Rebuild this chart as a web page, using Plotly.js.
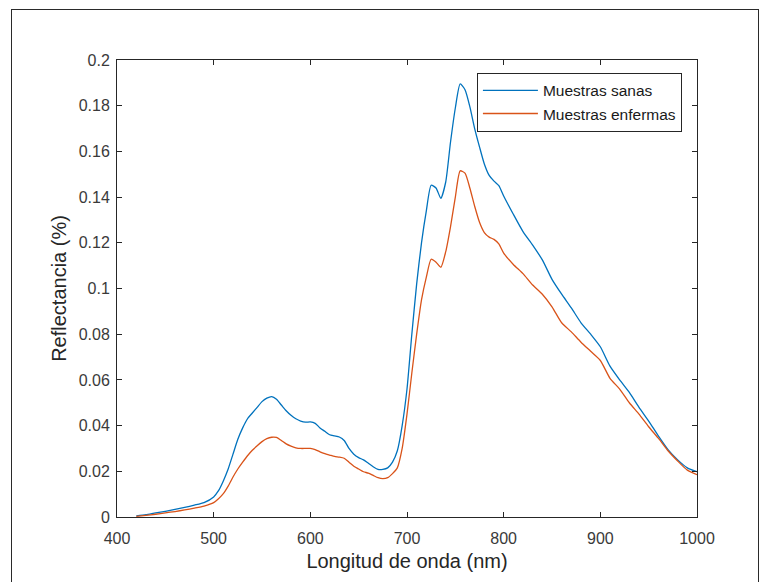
<!DOCTYPE html>
<html>
<head>
<meta charset="utf-8">
<script src="https://cdn.plot.ly/plotly-3.0.1.min.js"></script>
<style>
  html, body { margin: 0; padding: 0; background: #fff; overflow: hidden; }
  #chart { width: 763px; height: 582px; position: absolute; left: 0; top: 0; }
  #frame { position: absolute; left: 11px; top: 9px; width: 746px; height: 620px; border: 1px solid #2a2a2a; pointer-events: none; }
</style>
</head>
<body>
<div id="chart"></div>
<div id="frame"></div>
<script>
const wavelength = [420,430,440,450,460,470,480,490,500,505,510,515,520,525,530,535,540,545,550,555,560,565,570,575,580,585,590,595,600,605,610,615,620,625,630,635,640,645,650,655,660,665,670,675,680,685,690,695,700,705,710,715,720,725,730,735,740,745,750,755,760,765,770,775,780,785,790,795,800,810,820,830,840,850,860,870,880,890,900,910,920,930,940,950,960,970,980,990,1000];

const sanas = [0.0005,0.001,0.0018,0.0025,0.0033,0.0042,0.0052,0.0063,0.0088,0.0115,0.0158,0.021,0.0275,0.034,0.039,0.043,0.0455,0.048,0.0505,0.052,0.0527,0.0515,0.049,0.0465,0.0445,0.043,0.042,0.0415,0.0416,0.041,0.039,0.0375,0.036,0.0355,0.035,0.0335,0.030,0.0275,0.026,0.025,0.0235,0.022,0.0208,0.0208,0.0215,0.024,0.029,0.040,0.056,0.080,0.102,0.120,0.134,0.1452,0.144,0.1395,0.1465,0.164,0.179,0.1895,0.187,0.1796,0.170,0.162,0.1545,0.1495,0.147,0.145,0.1405,0.1325,0.1249,0.119,0.1125,0.104,0.0975,0.0915,0.085,0.080,0.0745,0.066,0.060,0.0545,0.048,0.042,0.0355,0.0295,0.025,0.0215,0.0198];

const enfermas = [0.0003,0.0007,0.0012,0.0018,0.0024,0.0031,0.0039,0.0048,0.0063,0.0080,0.0102,0.0135,0.0175,0.021,0.024,0.0268,0.0292,0.0312,0.033,0.0343,0.0349,0.0348,0.0335,0.032,0.031,0.0303,0.030,0.030,0.0300,0.0295,0.0285,0.0277,0.0271,0.0265,0.0262,0.0257,0.024,0.0222,0.021,0.0198,0.0192,0.0182,0.0172,0.0168,0.0172,0.019,0.0215,0.030,0.045,0.063,0.080,0.095,0.105,0.1128,0.1115,0.1093,0.116,0.127,0.140,0.1515,0.1505,0.144,0.136,0.129,0.1245,0.1225,0.1215,0.1195,0.1155,0.1105,0.1065,0.1015,0.0975,0.092,0.085,0.081,0.0765,0.0725,0.0685,0.0607,0.056,0.050,0.045,0.0395,0.0345,0.029,0.0245,0.0205,0.0185];

const xTickVals = [400,500,600,700,800,900,1000];
const xTickText = ['400','500','600','700','800','900','1000'];
const yTickVals = [0,0.02,0.04,0.06,0.08,0.1,0.12,0.14,0.16,0.18,0.2];
const yTickText = ['0','0.02','0.04','0.06','0.08','0.1','0.12','0.14','0.16','0.18','0.2'];

const seriesNames = ['Muestras sanas','Muestras enfermas'];
const seriesColors = ['#0072BD','#D95319'];

const traces = [
  {x: wavelength, y: sanas, type: 'scatter', mode: 'lines', name: seriesNames[0],
   line: {color: seriesColors[0], width: 1.3, shape: 'spline', smoothing: 0.6}},
  {x: wavelength, y: enfermas, type: 'scatter', mode: 'lines', name: seriesNames[1],
   line: {color: seriesColors[1], width: 1.3, shape: 'spline', smoothing: 0.6}}
];

const axisCommon = {
  showline: true, linecolor: '#262626', linewidth: 1, mirror: 'ticks',
  ticks: 'inside', ticklen: 5, tickwidth: 1, tickcolor: '#262626',
  showgrid: false, zeroline: false,
  tickfont: {family: 'Liberation Sans, Arial, sans-serif', size: 16, color: '#3a3a3a'},
  tickmode: 'array'
};

const layout = {
  width: 763, height: 582,
  margin: {l: 117, r: 66, t: 60, b: 65},
  paper_bgcolor: '#ffffff', plot_bgcolor: '#ffffff',
  font: {family: 'Liberation Sans, Arial, sans-serif', color: '#262626'},
  showlegend: true,
  xaxis: Object.assign({}, axisCommon, {
    range: [400, 1000], tickvals: xTickVals, ticktext: xTickText,
    ticklabelstandoff: 7,
    title: {text: 'Longitud de onda (nm)', font: {size: 20, color: '#262626'}, standoff: 7}
  }),
  yaxis: Object.assign({}, axisCommon, {
    range: [0, 0.2], tickvals: yTickVals, ticktext: yTickText,
    ticklabelstandoff: 3,
    title: {text: 'Reflectancia (%)', font: {size: 20, color: '#262626'}, standoff: 6}
  }),
  legend: {
    x: 0.974, y: 0.972, xanchor: 'right', yanchor: 'top',
    bgcolor: '#ffffff', bordercolor: '#262626', borderwidth: 1,
    font: {size: 15.5, color: '#1a1a1a'},
    tracegroupgap: 0, itemwidth: 55
  }
};

Plotly.newPlot('chart', traces, layout, {displayModeBar: false, staticPlot: true});
</script>
</body>
</html>
